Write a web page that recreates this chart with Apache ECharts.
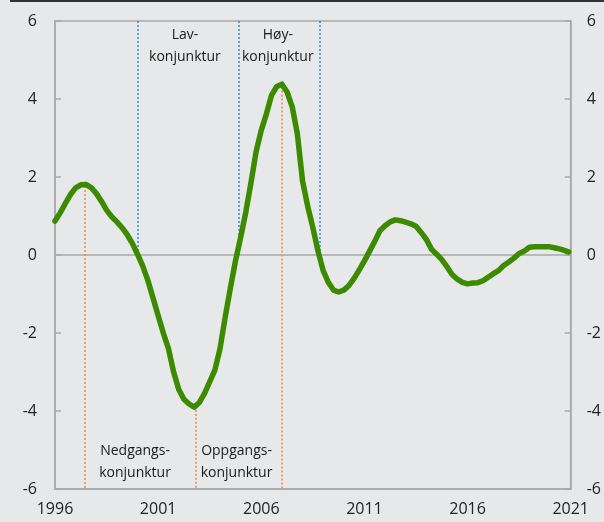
<!DOCTYPE html>
<html>
<head>
<meta charset="utf-8">
<script src="https://cdn.jsdelivr.net/npm/echarts@6/dist/echarts.min.js"></script>
<style>
html,body{margin:0;padding:0;background:#e7e8ea;}
#c{width:604px;height:522px;}
</style>
</head>
<body>
<div id="c"></div>
<script>
// Years since 1996 (quarterly)
const years = [
 0.0,0.25,0.5,0.75,1.0,1.25,1.5,1.75,2.0,2.25,2.5,2.75,3.0,3.25,3.5,3.75,
 4.0,4.25,4.5,4.75,5.0,5.25,5.5,5.75,6.0,6.25,6.5,6.75,7.0,7.25,7.5,7.75,
 8.0,8.25,8.5,8.75,9.0,9.25,9.5,9.75,10.0,10.25,10.5,10.75,11.0,11.25,11.5,11.75,
 12.0,12.25,12.5,12.75,13.0,13.25,13.5,13.75,14.0,14.25,14.5,14.75,15.0,15.25,15.5,15.75,
 16.0,16.25,16.5,16.75,17.0,17.25,17.5,17.75,18.0,18.25,18.5,18.75,19.0,19.25,19.5,19.75,
 20.0,20.25,20.5,20.75,21.0,21.25,21.5,21.75,22.0,22.25,22.5,22.75,23.0,23.25,23.5,23.75,
 24.0,24.25,24.5,24.9
];
const gap = [
 0.87,1.08,1.32,1.55,1.72,1.8,1.81,1.73,1.58,1.38,1.15,0.98,0.85,0.7,0.52,0.3,
 0.02,-0.28,-0.65,-1.1,-1.55,-2.0,-2.4,-3.0,-3.45,-3.7,-3.82,-3.9,-3.78,-3.55,-3.25,-2.95,
 -2.4,-1.6,-0.85,-0.15,0.45,1.1,1.85,2.65,3.2,3.62,4.1,4.32,4.38,4.18,3.8,3.1,
 1.9,1.25,0.7,0.1,-0.4,-0.7,-0.9,-0.95,-0.9,-0.78,-0.6,-0.38,-0.15,0.1,0.35,0.62,
 0.75,0.85,0.9,0.88,0.84,0.8,0.74,0.58,0.4,0.15,0.02,-0.12,-0.3,-0.5,-0.62,-0.7,
 -0.74,-0.72,-0.71,-0.66,-0.57,-0.48,-0.4,-0.27,-0.18,-0.08,0.04,0.1,0.2,0.21,0.21,0.21,
 0.21,0.18,0.15,0.08
];
const baseYear = 1996;
// Turning points (orange): [x, value at curve]
const turnX = [1.43, 6.82, 11.0];
const turnY = [1.77, -3.97, 4.32];
// Phase boundaries (blue)
const phaseX = [4.0, 8.9, 12.85];
// Phase labels
const phaseLabels = ["Lav-\nkonjunktur","Høy-\nkonjunktur","Nedgangs-\nkonjunktur","Oppgangs-\nkonjunktur"];
const phaseLabelX = [6.3, 10.8, 3.88, 8.8];
const phaseLabelY = [5.36, 5.36, -5.31, -5.31];

const lineData = years.map((t,i)=>[t, gap[i]]);
const orangeLines = turnX.map((x,i)=>[{coord:[x, turnY[i]]},{coord:[x, -6]}]);
const blueLines = phaseX.map(x=>[{coord:[x, 6]},{coord:[x, 0]}]);
const labelData = phaseLabels.map((s,i)=>({value:[phaseLabelX[i], phaseLabelY[i]], name:s}));

const font = "'Open Sans', 'Noto Sans', sans-serif";
const axisGray = '#a8a8a8';

const yAxisCommon = {
  type:'value', min:-6, max:6, interval:2,
  axisLine:{show:true, lineStyle:{color:axisGray, width:1.5}},
  axisTick:{show:true, inside:true, length:6, lineStyle:{color:axisGray, width:1.5}},
  splitLine:{show:false},
  axisLabel:{color:'#222', fontSize:16, fontFamily:font, margin:18}
};

const chart = echarts.init(document.getElementById('c'), null, {renderer:'canvas'});
chart.setOption({
  backgroundColor:'#e7e8ea',
  animation:false,
  grid:{left:55, right:32, top:21, bottom:33, show:true, borderColor:axisGray, borderWidth:1.5, backgroundColor:'transparent'},
  graphic:[{type:'rect', shape:{x:10, y:0, width:594, height:2}, style:{fill:'#333'}}],
  xAxis:{
    type:'value', min:0, max:25, interval:5,
    axisLine:{show:true, onZero:false, lineStyle:{color:axisGray, width:1.5}},
    axisTick:{show:false},
    splitLine:{show:false},
    axisLabel:{color:'#222', fontSize:16, fontFamily:font, margin:12, formatter:v=>String(baseYear+v)}
  },
  yAxis:[
    Object.assign({}, yAxisCommon, {position:'left'}),
    Object.assign({}, yAxisCommon, {position:'right', axisLabel:Object.assign({}, yAxisCommon.axisLabel, {margin:16})})
  ],
  series:[
    {
      type:'line', data:[], silent:true,
      markLine:{silent:true, symbol:'none', label:{show:false},
        lineStyle:{color:axisGray, width:1.5, type:'solid'},
        data:[[{coord:[0,0]},{coord:[25,0]}]]}
    },
    {
      type:'line', data:[], silent:true,
      markLine:{silent:true, symbol:'none', label:{show:false},
        lineStyle:{color:'#ef8a3a', width:1.5, type:[2,2]},
        data:orangeLines}
    },
    {
      type:'line', data:[], silent:true,
      markLine:{silent:true, symbol:'none', label:{show:false},
        lineStyle:{color:'#2f86d8', width:1.5, type:[2,2]},
        data:blueLines}
    },
    {
      type:'line', data:lineData, showSymbol:false, smooth:false, z:5,
      lineStyle:{color:'#3c8a00', width:5.5, cap:'round', join:'round'}
    },
    {
      type:'scatter', data:labelData, symbolSize:1, z:6, silent:true,
      itemStyle:{color:'rgba(0,0,0,0)', opacity:1},
      label:{show:true, position:'inside', formatter:p=>p.name, color:'#1a1a1a', opacity:1, fontSize:14, fontFamily:font, lineHeight:22, align:'center'}
    }
  ]
});
</script>
</body>
</html>
